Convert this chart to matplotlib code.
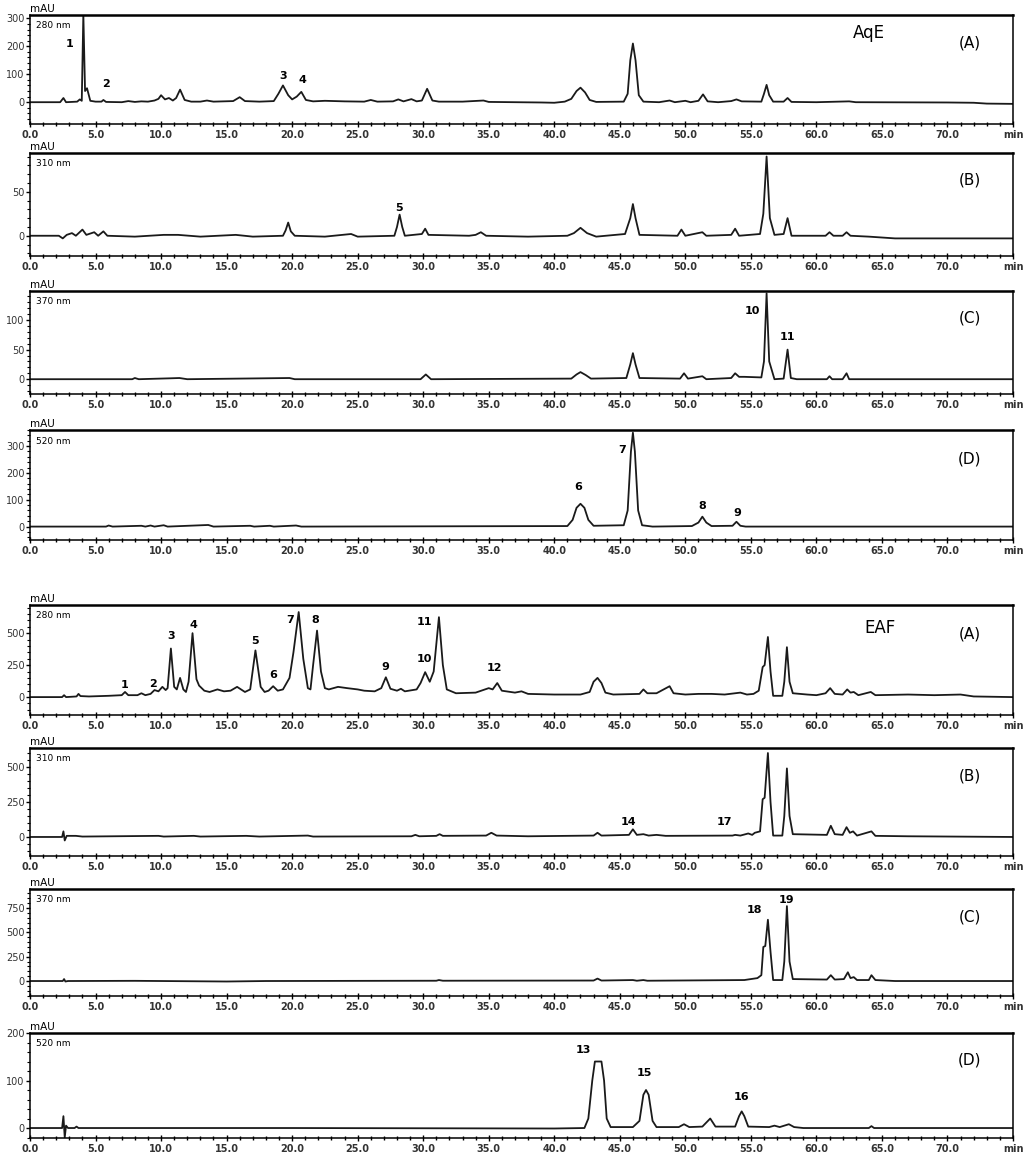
import matplotlib
matplotlib.use("Agg")
import matplotlib.pyplot as plt
from matplotlib.ticker import MultipleLocator, FixedLocator

# ---- chromatogram traces (time [min], signal [mAU]) ----
aqe_280 = [(0.0, 0), (2.3, 0), (2.55, 15), (2.75, 0), (3.6, 2), (3.8, 10), (3.95, 5),
           (4.07, 315), (4.2, 40), (4.35, 50), (4.6, 5), (5.0, 2), (5.45, 2), (5.6, 8),
           (5.8, 1), (7.0, 0), (7.5, 4), (8.0, 1), (8.5, 3), (9.0, 2), (9.5, 6), (9.8, 12),
           (10.0, 25), (10.3, 10), (10.6, 15), (10.9, 6), (11.15, 15), (11.45, 45), (11.8, 8),
           (12.3, 2), (13.0, 2), (13.5, 6), (14.0, 2), (15.5, 4), (16.0, 18), (16.4, 4),
           (17.5, 2), (18.6, 4), (18.95, 30), (19.3, 60), (19.7, 25), (20.0, 10), (20.35, 20),
           (20.7, 37), (21.05, 8), (21.6, 3), (22.5, 5), (24.0, 3), (25.5, 2), (26.0, 8),
           (26.5, 2), (27.7, 3), (28.1, 10), (28.5, 3), (29.1, 11), (29.5, 3), (29.9, 6),
           (30.3, 48), (30.7, 6), (31.2, 2), (33.0, 2), (34.6, 6), (35.0, 1), (37.0, 0),
           (39.0, -1), (40.0, -2), (40.8, 2), (41.3, 12), (41.7, 40), (42.0, 52), (42.35, 35),
           (42.7, 8), (43.2, 1), (45.3, 2), (45.6, 30), (45.8, 150), (46.0, 210), (46.2, 150),
           (46.45, 25), (46.8, 2), (48.0, 0), (48.8, 6), (49.2, 0), (50.0, 5), (50.4, 0),
           (51.0, 5), (51.35, 28), (51.7, 3), (52.5, 0), (53.5, 4), (53.9, 10), (54.3, 3),
           (55.8, 2), (56.0, 30), (56.2, 62), (56.4, 25), (56.7, 2), (57.5, 2), (57.8, 15),
           (58.1, 1), (60.0, 0), (62.5, 3), (63.0, 0), (70.0, -1), (72.0, -2), (73.0, -5),
           (75.0, -6)]

aqe_310 = [(0.0, 0), (2.2, 0), (2.5, -3), (2.8, 1), (3.2, 3), (3.5, 0), (4.0, 7), (4.3, 1),
           (4.9, 4), (5.2, 0), (5.6, 5), (5.9, 0), (8.0, -1), (10.2, 1), (11.3, 1), (13.0, -1),
           (15.7, 1), (17.0, -1), (19.3, 0), (19.5, 6), (19.7, 15), (19.9, 5), (20.2, 0),
           (22.5, -1), (24.5, 2), (25.0, -1), (27.8, 0), (28.0, 10), (28.2, 24), (28.4, 10),
           (28.6, 0), (29.9, 2), (30.15, 8), (30.4, 1), (33.5, 0), (34.0, 1), (34.4, 4),
           (34.8, 0), (38.0, -1), (41.0, 0), (41.5, 3), (42.0, 9), (42.5, 3), (43.2, -1),
           (45.4, 2), (45.8, 20), (46.0, 36), (46.2, 20), (46.5, 1), (49.4, 0), (49.7, 7),
           (50.0, 0), (51.3, 4), (51.6, 0), (53.5, 1), (53.8, 8), (54.1, 0), (55.7, 2),
           (55.95, 25), (56.2, 90), (56.45, 20), (56.8, 1), (57.5, 2), (57.8, 20), (58.1, 0),
           (60.7, 0), (61.0, 4), (61.3, 0), (62.0, 0), (62.3, 4), (62.6, 0), (64.0, -1),
           (66.0, -3), (75.0, -3)]

aqe_370 = [(0.0, 0), (7.8, 0), (8.0, 2), (8.3, 0), (10.7, 1.5), (11.4, 2), (12.0, 0),
           (19.8, 2), (20.2, 0), (29.8, 0), (30.2, 8), (30.6, 0), (41.3, 1), (41.7, 8),
           (42.0, 12), (42.4, 7), (42.8, 1), (45.5, 2), (45.8, 25), (46.0, 44), (46.2, 25),
           (46.5, 2), (49.6, 1), (49.9, 10), (50.2, 1), (51.3, 5), (51.6, 0), (53.5, 2),
           (53.8, 10), (54.1, 4), (54.5, 4), (55.8, 3), (56.0, 30), (56.2, 145), (56.4, 30),
           (56.8, 0), (57.5, 1), (57.8, 50), (58.05, 2), (58.5, 0), (60.8, 0), (61.0, 5),
           (61.2, 0), (62.0, 0), (62.3, 10), (62.5, 0), (75.0, 0)]

aqe_520 = [(0.0, 0), (5.8, 0), (6.0, 4), (6.3, 0), (8.5, 3), (8.8, 0), (9.2, 4), (9.5, 0),
           (10.2, 5), (10.5, 0), (13.6, 6), (14.0, 0), (16.8, 3), (17.1, 0), (18.3, 3),
           (18.6, 0), (20.3, 4), (20.7, 0), (41.0, 2), (41.4, 25), (41.7, 70), (42.0, 85),
           (42.3, 70), (42.6, 25), (43.0, 3), (45.3, 5), (45.6, 60), (45.85, 280), (46.0, 350),
           (46.15, 280), (46.4, 60), (46.7, 5), (47.5, 0), (50.5, 2), (51.0, 15), (51.3, 37),
           (51.6, 15), (52.0, 2), (53.6, 3), (53.9, 18), (54.2, 3), (54.6, 0), (75.0, 0)]

eaf_280 = [(0.0, 0), (2.45, 0), (2.6, 15), (2.75, 0), (3.55, 5), (3.7, 25), (3.85, 8),
           (4.5, 5), (6.0, 10), (7.0, 15), (7.25, 40), (7.5, 15), (8.2, 15), (8.5, 30),
           (8.8, 15), (9.2, 25), (9.5, 55), (9.8, 45), (10.1, 80), (10.35, 55), (10.5, 70),
           (10.75, 380), (11.0, 80), (11.2, 60), (11.45, 150), (11.7, 60), (11.9, 40),
           (12.1, 120), (12.4, 500), (12.7, 140), (12.9, 90), (13.3, 50), (13.7, 40),
           (14.3, 60), (14.8, 45), (15.3, 50), (15.8, 80), (16.4, 40), (16.8, 60), (17.2, 365),
           (17.6, 80), (17.9, 40), (18.2, 50), (18.55, 85), (18.9, 50), (19.3, 60), (19.8, 150),
           (20.1, 350), (20.5, 665), (20.85, 300), (21.2, 70), (21.4, 60), (21.6, 250),
           (21.9, 520), (22.2, 200), (22.5, 70), (22.8, 60), (23.5, 80), (24.2, 70), (25.0, 60),
           (25.5, 50), (26.3, 45), (26.8, 70), (27.15, 155), (27.5, 65), (28.0, 50), (28.3, 65),
           (28.6, 45), (29.5, 60), (29.8, 110), (30.15, 195), (30.5, 120), (30.8, 200),
           (31.2, 625), (31.5, 250), (31.8, 60), (32.5, 30), (34.0, 35), (35.0, 70), (35.3, 60),
           (35.65, 110), (36.0, 50), (37.0, 35), (37.5, 45), (38.0, 25), (40.0, 20), (42.0, 20),
           (42.7, 40), (43.0, 120), (43.3, 150), (43.6, 110), (43.9, 35), (44.5, 20), (46.5, 25),
           (46.8, 60), (47.1, 30), (47.8, 30), (48.8, 85), (49.1, 30), (50.0, 20), (51.0, 25),
           (52.0, 25), (53.0, 20), (54.2, 35), (54.7, 20), (55.2, 25), (55.6, 50), (55.9, 235),
           (56.05, 250), (56.3, 470), (56.5, 200), (56.7, 10), (57.4, 10), (57.55, 120),
           (57.75, 390), (57.95, 120), (58.2, 30), (59.3, 20), (60.0, 15), (60.7, 30),
           (61.05, 70), (61.4, 25), (62.0, 20), (62.35, 60), (62.6, 35), (62.85, 40), (63.2, 15),
           (64.15, 40), (64.5, 15), (67.0, 20), (69.0, 15), (71.0, 20), (72.0, 5), (75.0, 0)]

eaf_310 = [(0.0, 0), (2.45, 0), (2.55, 40), (2.65, -25), (2.8, 8), (3.5, 8), (4.0, 3),
           (9.8, 8), (10.2, 3), (12.5, 8), (13.0, 3), (16.5, 8), (17.5, 3), (21.2, 10),
           (21.6, 3), (29.1, 5), (29.4, 15), (29.7, 5), (31.0, 8), (31.25, 20), (31.5, 8),
           (34.8, 10), (35.2, 30), (35.6, 10), (38.0, 5), (43.0, 10), (43.3, 30), (43.6, 10),
           (45.7, 15), (46.0, 55), (46.3, 15), (46.8, 20), (47.2, 10), (47.8, 15), (48.5, 8),
           (53.6, 10), (53.8, 15), (54.2, 10), (54.8, 25), (55.1, 15), (55.3, 30), (55.7, 40),
           (55.9, 270), (56.05, 280), (56.3, 600), (56.5, 250), (56.7, 10), (57.4, 10),
           (57.55, 150), (57.75, 490), (57.95, 150), (58.2, 20), (60.8, 15), (61.1, 80),
           (61.4, 20), (62.0, 15), (62.3, 70), (62.55, 30), (62.8, 40), (63.1, 10), (64.2, 40),
           (64.5, 8), (67.0, 5), (75.0, 0)]

eaf_370 = [(0.0, 0), (2.5, 0), (2.6, 20), (2.7, -5), (2.9, 0), (8.0, 2), (15.0, -5),
           (18.0, 0), (31.0, 3), (31.2, 10), (31.5, 3), (43.0, 5), (43.3, 25), (43.6, 5),
           (46.0, 10), (46.3, 3), (46.8, 10), (47.1, 3), (54.5, 10), (55.0, 20), (55.5, 30),
           (55.8, 60), (55.95, 350), (56.1, 360), (56.3, 630), (56.5, 300), (56.7, 10),
           (57.4, 10), (57.55, 200), (57.75, 770), (57.95, 200), (58.2, 20), (60.8, 15),
           (61.1, 60), (61.4, 15), (62.1, 20), (62.4, 90), (62.6, 30), (62.85, 40), (63.1, 10),
           (64.0, 10), (64.2, 60), (64.5, 10), (66.0, 0), (75.0, 0)]

eaf_520 = [(0.0, 0), (2.45, 0), (2.55, 25), (2.65, -20), (2.75, 5), (2.9, 0), (3.4, 0),
           (3.55, 3), (3.7, 0), (20.0, 0), (40.0, -1), (42.3, 0), (42.6, 20), (42.9, 100),
           (43.1, 140), (43.6, 140), (43.8, 100), (44.0, 20), (44.3, 2), (46.0, 2), (46.5, 15),
           (46.8, 70), (47.0, 80), (47.2, 70), (47.5, 15), (47.8, 2), (49.5, 2), (49.9, 8),
           (50.3, 2), (51.3, 3), (51.9, 20), (52.3, 3), (53.8, 3), (54.1, 25), (54.3, 35),
           (54.5, 25), (54.8, 3), (56.4, 2), (56.8, 5), (57.2, 2), (57.9, 8), (58.3, 2),
           (59.0, 0), (64.0, 0), (64.2, 4), (64.4, 0), (75.0, 0)]

# peak numbers (label, time, mAU position of the label)
aqe_280_labels = [("1", 3.05, 207), ("2", 5.8, 64), ("3", 19.3, 93), ("4", 20.8, 79)]
aqe_310_labels = [("5", 28.15, 32)]
aqe_370_labels = [("10", 55.1, 115), ("11", 57.8, 71)]
aqe_520_labels = [("6", 41.8, 146), ("7", 45.2, 285), ("8", 51.3, 75), ("9", 54.0, 52)]
eaf_280_labels = [("1", 7.25, 94), ("2", 9.4, 101), ("3", 10.75, 476), ("4", 12.45, 562),
                  ("5", 17.2, 437), ("6", 18.55, 172), ("7", 19.85, 600), ("8", 21.8, 600),
                  ("9", 27.1, 234), ("10", 30.1, 296), ("11", 30.1, 585), ("12", 35.4, 226)]
eaf_310_labels = [("14", 45.7, 107), ("17", 52.95, 107)]
eaf_370_labels = [("18", 55.3, 731), ("19", 57.75, 834)]
eaf_520_labels = [("13", 42.2, 164), ("15", 46.9, 116), ("16", 54.3, 65)]

wavelengths = ["280 nm", "310 nm", "370 nm", "520 nm"] * 2
panel_letters = ["(A)", "(B)", "(C)", "(D)"] * 2
traces = [aqe_280, aqe_310, aqe_370, aqe_520, eaf_280, eaf_310, eaf_370, eaf_520]
labels = [aqe_280_labels, aqe_310_labels, aqe_370_labels, aqe_520_labels,
          eaf_280_labels, eaf_310_labels, eaf_370_labels, eaf_520_labels]
ylims = [(-78, 312), (-23, 94), (-25, 149), (-50, 360),
         (-140, 720), (-136, 636), (-154, 946), (-21, 200)]
yticks = [[0, 100, 200, 300], [0, 50], [0, 50, 100], [0, 100, 200, 300],
          [0, 250, 500], [0, 250, 500], [0, 250, 500, 750], [0, 100, 200]]
yminor = [20, 10, 10, 20, 50, 50, 50, 20]

# panel positions in pixels (top, bottom) on a 1024 x 1163 canvas
panel_px = [(15, 124), (153, 256), (291, 394), (430, 540),
            (605, 715), (748, 856), (889, 996), (1033, 1138)]
W, H = 1024, 1163
left_px, right_px = 30, 1013

fig = plt.figure(figsize=(W / 100, H / 100), dpi=100)

for i in range(8):
    top, bot = panel_px[i]
    ax = fig.add_axes([left_px / W, 1 - bot / H, (right_px - left_px) / W, (bot - top) / H])
    t = [p[0] for p in traces[i]]
    y = [p[1] for p in traces[i]]
    ax.plot(t, y, color="#1a1a1a", lw=1.3, solid_joinstyle="round")

    ax.set_xlim(0, 75)
    ax.set_ylim(*ylims[i])
    xt = list(range(0, 75, 5)) + [75]
    ax.xaxis.set_major_locator(FixedLocator(xt))
    ax.set_xticklabels(["%.1f" % v for v in range(0, 75, 5)] + ["min"])
    ax.xaxis.set_minor_locator(MultipleLocator(1))
    ax.set_yticks(yticks[i])
    ax.yaxis.set_minor_locator(MultipleLocator(yminor[i]))
    ax.tick_params(axis="x", which="major", direction="inout", length=5, width=1,
                   labelsize=7, pad=2)
    ax.tick_params(axis="x", which="minor", direction="inout", length=3, width=1)
    ax.tick_params(axis="y", which="major", direction="out", length=3, width=1,
                   labelsize=7, pad=1)
    ax.tick_params(axis="y", which="minor", direction="out", length=2, width=0.8)
    for lab in ax.get_xticklabels():
        lab.set_fontweight("bold")
        lab.set_color("#333333")
    for lab in ax.get_yticklabels():
        lab.set_color("#333333")
    ax.spines["top"].set_linewidth(1.8)
    for s in ["left", "right", "bottom"]:
        ax.spines[s].set_linewidth(1.1)

    ax.text(0.0, 1.01, "mAU", transform=ax.transAxes, fontsize=7.5, ha="left", va="bottom")
    ax.text(0.006, 0.9, wavelengths[i], transform=ax.transAxes, fontsize=6.5,
            ha="left", va="center")
    ax.text(0.956, 0.74, panel_letters[i], transform=ax.transAxes, fontsize=11,
            ha="center", va="center")
    for txt, lx, ly in labels[i]:
        ax.text(lx, ly, txt, fontsize=8, fontweight="bold", ha="center", va="center")

    if i == 0:
        ax.text(0.853, 0.835, "AqE", transform=ax.transAxes, fontsize=12,
                ha="center", va="center")
    if i == 4:
        ax.text(0.865, 0.79, "EAF", transform=ax.transAxes, fontsize=12,
                ha="center", va="center")

fig.savefig("out.png", dpi=100)
